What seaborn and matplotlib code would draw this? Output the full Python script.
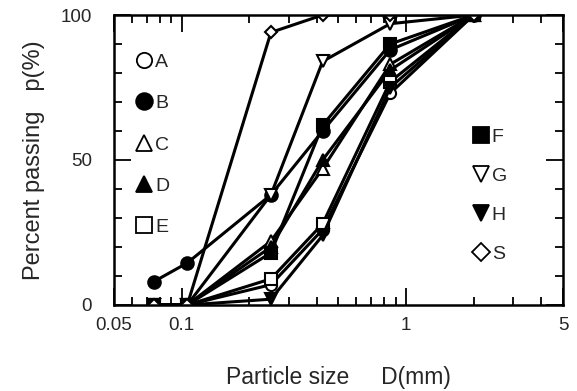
import numpy as np
import pandas as pd
import matplotlib
matplotlib.use("Agg")
import matplotlib.pyplot as plt
from matplotlib.lines import Line2D
from matplotlib.ticker import FixedLocator, NullFormatter, FixedFormatter
import seaborn as sns

# sieve sizes (mm)
sizes = [0.075, 0.106, 0.25, 0.425, 0.85, 2.0]
A = [0, 0, 7, 26, 73, 100]
B = [8, 14.5, 38, 60, 88, 100]
C = [0, 0, 22, 47, 83, 100]
D = [0, 0, 20, 50, 81, 100]
E = [0, 0, 9, 28, 77, 100]
F = [0, 0, 18, 62, 90, 100]
G = [0, 0, 38, 84, 97, 100]
H = [0, 0, 2, 24, 75, 100]
S = [0, 0, 94, 100, 100, 100]

names = ["A", "B", "C", "D", "E", "F", "G", "H", "S"]
series = [A, B, C, D, E, F, G, H, S]
markers = {"A": "o", "B": "o", "C": "^", "D": "^", "E": "s", "F": "s", "G": "v", "H": "v", "S": "D"}
filled = {"A": False, "B": True, "C": False, "D": True, "E": False, "F": True, "G": False, "H": True, "S": False}
msize = {"A": 8, "B": 9, "C": 8, "D": 8, "E": 8, "F": 9, "G": 8, "H": 8, "S": 6}

x_ticks = [0.05, 0.1, 1, 5]
x_ticklabels = ["0.05", "0.1", "1", "5"]
y_ticks = [0, 50, 100]

df = pd.DataFrame({
    "size": np.tile(sizes, len(names)),
    "p": np.concatenate(series),
    "sample": np.repeat(names, len(sizes)),
})

sns.set_theme(style="ticks")
plt.rcParams["font.family"] = ["Liberation Sans", "DejaVu Sans"]

fig = plt.figure(figsize=(5.77, 3.91), dpi=100)
ax = fig.add_axes([0.1976, 0.22, 0.7781, 0.7416])

for n in names:
    sub = df[df["sample"] == n]
    sns.lineplot(data=sub, x="size", y="p", ax=ax, color="black", linewidth=2.2,
                 marker=markers[n], markersize=msize[n],
                 markerfacecolor="black" if filled[n] else "white",
                 markeredgecolor="black", markeredgewidth=1.5,
                 estimator=None, sort=False, legend=False)

ax.set_xscale("log")
ax.set_xlim(0.05, 5)
ax.set_ylim(0, 100)

ax.xaxis.set_major_locator(FixedLocator(x_ticks))
ax.xaxis.set_major_formatter(FixedFormatter(x_ticklabels))
minor = [0.06, 0.07, 0.08, 0.09, 0.2, 0.3, 0.4, 0.5, 0.6, 0.7, 0.8, 0.9, 2, 3, 4]
ax.xaxis.set_minor_locator(FixedLocator(minor))
ax.xaxis.set_minor_formatter(NullFormatter())
ax.yaxis.set_major_locator(FixedLocator(y_ticks))
ax.yaxis.set_minor_locator(FixedLocator([10, 20, 30, 40, 60, 70, 80, 90]))

ax.tick_params(which="both", direction="in", top=True, right=True, color="black", width=1.3)
ax.tick_params(which="major", length=12, labelsize=13.5)
ax.tick_params(which="minor", length=6)
ax.tick_params(axis="x", which="major", pad=9)
ax.tick_params(axis="y", which="major", pad=16)
for sp in ax.spines.values():
    sp.set_linewidth(1.8)
    sp.set_color("black")

ax.set_xlabel("Particle size     D(mm)", fontsize=16.5, labelpad=23)
ax.set_ylabel("Percent passing   p(%)", fontsize=17, labelpad=11)

def handle(n):
    return Line2D([], [], linestyle="none", marker=markers[n], markersize=msize[n] + 3,
                  markerfacecolor="black" if filled[n] else "white",
                  markeredgecolor="black", markeredgewidth=1.3)

leg1 = ax.legend([handle(n) for n in ["A", "B", "C", "D", "E"]], ["A", "B", "C", "D", "E"],
                 loc="upper left", bbox_to_anchor=(0.02, 0.915), frameon=False,
                 handlelength=0.8, handletextpad=0.15, labelspacing=1.22, fontsize=14,
                 borderaxespad=0.3)
ax.add_artist(leg1)
ax.legend([handle(n) for n in ["F", "G", "H", "S"]], ["F", "G", "H", "S"],
          loc="upper left", bbox_to_anchor=(0.77, 0.655), frameon=False,
          handlelength=0.8, handletextpad=0.15, labelspacing=1.1, fontsize=14,
          borderaxespad=0.3)

fig.savefig("out.png", dpi=100)
